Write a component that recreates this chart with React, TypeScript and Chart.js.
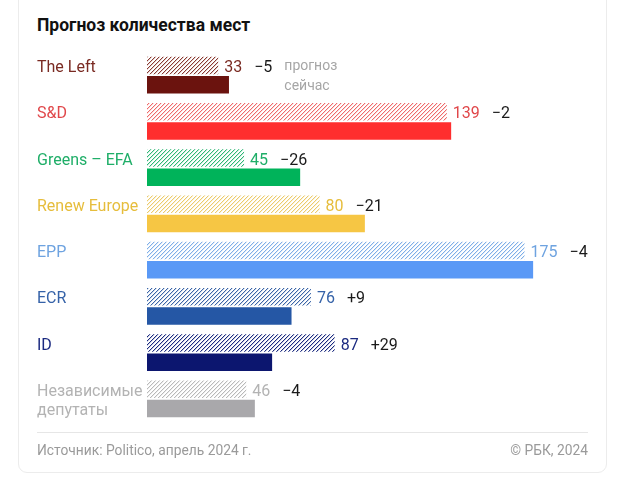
import React, { useEffect, useRef } from "react";
import { Chart, registerables } from "chart.js";

Chart.register(...registerables);

const parties: string[][] = [
  ["The Left"],
  ["S&D"],
  ["Greens – EFA"],
  ["Renew Europe"],
  ["EPP"],
  ["ECR"],
  ["ID"],
  ["Независимые", "депутаты"],
];
const forecast = [33, 139, 45, 80, 175, 76, 87, 46];
const current = [38, 141, 71, 101, 179, 67, 58, 50];
const changes = ["−5", "−2", "−26", "−21", "−4", "+9", "+29", "−4"];
const solidColors = ["#6b130e", "#ff2e2e", "#00b35a", "#f6c644", "#5a99f6", "#2557a5", "#0c166f", "#a9a8ab"];
const textColors = ["#7a2a22", "#e0474a", "#1fae68", "#e6bd3c", "#6ea3e0", "#3562a8", "#1b2a80", "#b3b3b3"];
const hatchColors = ["#8a3a32", "#ef6a6a", "#2fb776", "#eccb6a", "#7eaee8", "#3c66a8", "#1b2a80", "#b9b9b9"];
const legendLabels = ["прогноз", "сейчас"];
const title = "Прогноз количества мест";
const source = "Источник: Politico, апрель 2024 г.";
const copyright = "© РБК, 2024";

const FONT = "Roboto, 'Noto Sans', sans-serif";
const FS = 16;

function makePattern(color: string): CanvasPattern | string {
  const c = document.createElement("canvas");
  c.width = 4;
  c.height = 4;
  const ctx = c.getContext("2d");
  if (!ctx) return color;
  ctx.fillStyle = "#ffffff";
  ctx.fillRect(0, 0, 4, 4);
  ctx.fillStyle = color;
  for (let x = 0; x < 4; x++) {
    ctx.globalAlpha = 1;
    ctx.fillRect(x, 3 - x, 1, 1);
    ctx.globalAlpha = 0.25;
    ctx.fillRect(x, (4 - x) % 4, 1, 1);
  }
  ctx.globalAlpha = 1;
  const p = ctx.createPattern(c, "repeat");
  return p || color;
}

const labelsPlugin = {
  id: "valueLabels",
  afterDatasetsDraw(chart: any) {
    const ctx = chart.ctx;
    const metaF = chart.getDatasetMeta(0);
    const metaC = chart.getDatasetMeta(1);
    const yScale = chart.scales.y;
    const capOff = FS * 0.36 + 1;
    ctx.save();
    ctx.textBaseline = "alphabetic";
    ctx.textAlign = "left";
    ctx.font = `${FS}px ${FONT}`;
    parties.forEach((lines, i) => {
      ctx.fillStyle = textColors[i];
      if (lines.length === 1) {
        ctx.fillText(lines[0], 37, metaF.data[i].y + capOff);
      } else {
        const c = yScale.getPixelForValue(i);
        const lh = 19;
        lines.forEach((ln, k) => {
          const y = c + (k - (lines.length - 1) / 2) * lh;
          ctx.fillText(ln, 37, y + capOff);
        });
      }
    });
    metaF.data.forEach((bar: any, i: number) => {
      ctx.font = `${FS}px ${FONT}`;
      const x0 = bar.x + 6;
      const y = bar.y + capOff;
      const v = String(forecast[i]);
      ctx.fillStyle = textColors[i];
      ctx.fillText(v, x0, y);
      const w = ctx.measureText(v).width;
      const x1 = x0 + w + 12;
      ctx.fillStyle = "#1a1a1a";
      ctx.fillText(changes[i], x1, y);
      if (i === 0) {
        const w2 = ctx.measureText(changes[i]).width;
        const x2 = x1 + w2 + 12;
        ctx.font = `14px ${FONT}`;
        ctx.fillStyle = "#a6a6a6";
        ctx.fillText(legendLabels[0], x2, bar.y + 5);
        ctx.fillText(legendLabels[1], x2, metaC.data[0].y + 5);
      }
    });
    ctx.restore();
  },
};

export default function App() {
  const ref = useRef<HTMLCanvasElement>(null);
  useEffect(() => {
    if (!ref.current) return;
    const chart = new Chart(ref.current, {
      type: "bar",
      data: {
        labels: parties,
        datasets: [
          {
            label: legendLabels[0],
            data: forecast,
            backgroundColor: hatchColors.map((c) => makePattern(c)) as any,
            borderWidth: 0,
            categoryPercentage: 0.84,
            barPercentage: 0.9,
          },
          {
            label: legendLabels[1],
            data: current,
            backgroundColor: solidColors,
            borderWidth: 0,
            categoryPercentage: 0.84,
            barPercentage: 0.9,
          },
        ],
      },
      options: {
        indexAxis: "y",
        responsive: false,
        maintainAspectRatio: false,
        animation: false,
        layout: { padding: { left: 147, right: 31, top: 52, bottom: 63 } },
        plugins: {
          legend: { display: false },
          tooltip: { enabled: false },
        },
        scales: {
          x: {
            display: false,
            min: 0,
            max: 210,
            grid: { display: false },
          },
          y: {
            display: false,
            grid: { display: false },
          },
        },
      },
      plugins: [labelsPlugin],
    } as any);
    return () => chart.destroy();
  }, []);

  return (
    <div>
      <div
        style={{
          position: "absolute",
          left: 18,
          top: -12,
          width: 587,
          height: 483,
          border: "1px solid #ececec",
          borderRadius: 9,
          background: "#fff",
        }}
      />
      <div
        style={{
          position: "absolute",
          left: 37,
          top: 14,
          fontFamily: FONT,
          fontWeight: 700,
          fontSize: 17.5,
          lineHeight: "22px",
          color: "#111",
          whiteSpace: "nowrap",
        }}
      >
        {title}
      </div>
      <canvas
        ref={ref}
        width={631}
        height={485}
        style={{ position: "absolute", left: 0, top: 0, width: 631, height: 485 }}
      />
      <div
        style={{
          position: "absolute",
          left: 37,
          top: 432,
          width: 551,
          height: 1,
          background: "#e6e6e6",
        }}
      />
      <div
        style={{
          position: "absolute",
          left: 37,
          top: 441,
          fontFamily: FONT,
          fontSize: 13.8,
          lineHeight: "18px",
          color: "#9a9a9a",
          whiteSpace: "nowrap",
        }}
      >
        {source}
      </div>
      <div
        style={{
          position: "absolute",
          right: 631 - 588,
          top: 441,
          fontFamily: FONT,
          fontSize: 13.8,
          lineHeight: "18px",
          color: "#9a9a9a",
          whiteSpace: "nowrap",
        }}
      >
        {copyright}
      </div>
    </div>
  );
}
